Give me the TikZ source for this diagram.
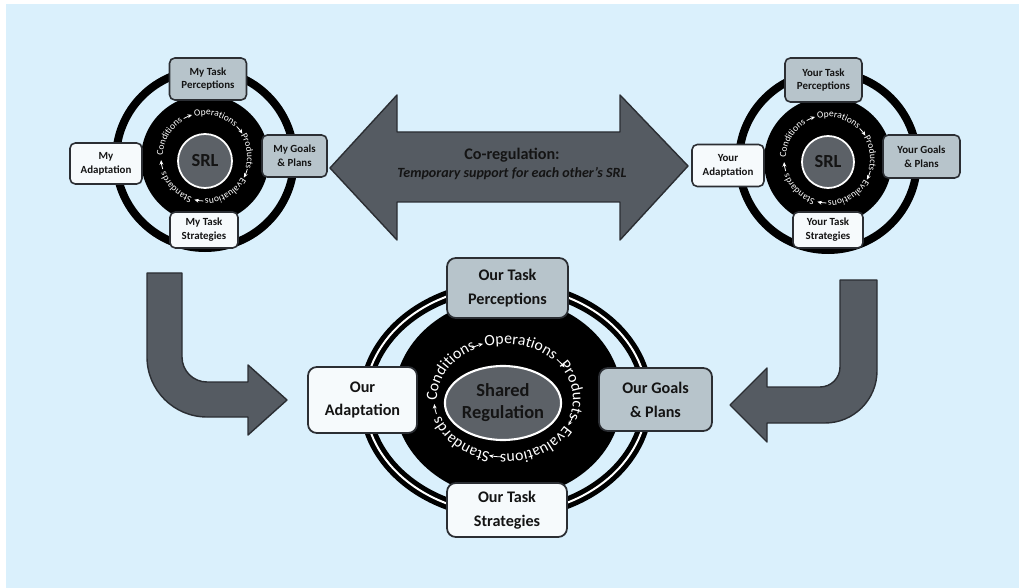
\documentclass[tikz,border=0pt]{standalone}
\usepackage{fontspec}
\setmainfont{Carlito}
\usetikzlibrary{decorations.text, arrows.meta, shapes.geometric}

\definecolor{bgblue}{HTML}{DAF0FC}
\definecolor{boxgray}{HTML}{B7C4CB}
\definecolor{boxwhite}{HTML}{F6FAFC}
\definecolor{arrowfill}{HTML}{555B62}
\definecolor{edgedark}{HTML}{2B2E33}
\definecolor{hubfill}{HTML}{5C6167}
\definecolor{inkdark}{HTML}{141414}

% one word of the regulation cycle, set clockwise along an elliptic arc
% #1 centre, #2 x radius, #3 y radius, #4 mid angle, #5 word, #6 font size
\newcommand\ringword[6]{%
  \path[shift={(#1)}, decorate,
        decoration={text along path, text align=center, text color=white,
                    text={|\fontsize{#6}{#6}\selectfont|#5}}]
    ({#4+48}:#2 and #3) arc[start angle={#4+48}, end angle={#4-48}, x radius=#2, y radius=#3];}

% small clockwise arrow between two words of the cycle
% #1 centre, #2 x radius, #3 y radius, #4 mid angle, #5 half span
\newcommand\ringarrow[5]{%
  \draw[shift={(#1)}, white, line width=0.45pt, -{Stealth[length=2.6pt,width=2.2pt]}]
    ({#4+#5}:#2 and #3) arc[start angle={#4+#5}, end angle={#4-#5}, x radius=#2, y radius=#3];}

\begin{document}
\begin{tikzpicture}[x=0.02cm, y=0.02cm,
  card/.style={draw=edgedark, line width=0.9pt, rounded corners=3pt, align=center,
               inner sep=1pt, text=inkdark, font=\bfseries\fontsize{6.2}{7.9}\selectfont},
  bigcard/.style={card, rounded corners=5pt, line width=1pt,
                  font=\bfseries\fontsize{9.2}{13.6}\selectfont},
  grayfill/.style={fill=boxgray},
  whitefill/.style={fill=boxwhite},
  boxsize/.style 2 args={minimum width=#1*0.02cm, minimum height=#2*0.02cm},
  hub/.style={fill=hubfill, draw=white, line width=1pt, inner sep=0pt},
  blockarrow/.style={fill=arrowfill, draw=edgedark, line width=0.8pt, line join=round}]

\useasboundingbox (0,0) rectangle (1019,-588);
\fill[white] (0,0) rectangle (1019,-588);
\fill[bgblue] (6,-4) rectangle (1019,-588);

% ---------- centres ----------
\coordinate (ringA) at (205,-159);
\coordinate (textA) at (205,-157);
\coordinate (ringB) at (828,-161);
\coordinate (textB) at (828,-159);
\coordinate (ringC) at (506,-400);
\coordinate (diskC) at (508,-398);
\coordinate (textC) at (505,-399);

% ---------- co-regulation double arrow ----------
\draw[blockarrow] (330,-168) -- (397,-95) -- (397,-132) -- (620,-132) -- (620,-95)
  -- (688,-166) -- (620,-240) -- (620,-202) -- (397,-202) -- (397,-240) -- cycle;
\node[align=center, text=inkdark, font=\bfseries\fontsize{9.2}{10.2}\selectfont] (coreg) at (512,-164)
  {Co-regulation:\\{\fontsize{8}{10}\selectfont\itshape Temporary support for each other’s SRL}};

% ---------- bent arrows into shared regulation ----------
\draw[blockarrow] (147,-273) -- (182,-273) -- (182,-357)
  arc[start angle=180, end angle=270, radius=25] -- (248,-382) -- (248,-365)
  -- (287,-400) -- (248,-435) -- (248,-417) -- (207,-417)
  arc[start angle=270, end angle=180, radius=60] -- cycle;
\draw[blockarrow] (840,-280) -- (877,-280) -- (877,-371)
  arc[start angle=0, end angle=-90, radius=52] -- (767,-423) -- (767,-442)
  -- (730,-405) -- (767,-368) -- (767,-387) -- (820,-387)
  arc[start angle=-90, end angle=0, radius=20] -- cycle;

% ---------- my SRL ----------
\draw[black, line width=0.16cm] (ringA) circle[radius=89];
\fill[black] (ringA) circle[radius=64];
\ringword{textA}{42}{42}{150}{Conditions}{5.4}
\ringword{textA}{42}{42}{75}{Operations}{5.4}
\ringword{textA}{42}{42}{8}{Products}{5.4}
\ringword{textA}{42}{42}{-60}{Evaluations}{5.4}
\ringword{textA}{42}{42}{-134}{Standards}{5.4}
\foreach \a in {113,38,-22,-98,-170} {\ringarrow{textA}{44}{44}{\a}{6}}
\node[hub, circle, minimum size=54*0.02cm, font=\bfseries\fontsize{10.5}{12}\selectfont] (srlA) at (205,-161)
  {\color{inkdark}SRL};

\node[card, grayfill, boxsize={77}{42}] (myPer) at (208,-79) {My Task\\Perceptions};
\node[card, grayfill, boxsize={65}{42}] (myGoal) at (294.5,-156) {My Goals\\\& Plans};
\node[card, whitefill, boxsize={72}{41}] (myAdapt) at (106,-163.5) {My\\Adaptation};
\node[card, whitefill, boxsize={68}{36}] (myStrat) at (204,-230) {My Task\\Strategies};

% ---------- your SRL ----------
\draw[black, line width=0.16cm] (ringB) circle[radius=89];
\fill[black] (ringB) circle[radius=64];
\ringword{textB}{42}{42}{150}{Conditions}{5.4}
\ringword{textB}{42}{42}{75}{Operations}{5.4}
\ringword{textB}{42}{42}{8}{Products}{5.4}
\ringword{textB}{42}{42}{-60}{Evaluations}{5.4}
\ringword{textB}{42}{42}{-134}{Standards}{5.4}
\foreach \a in {113,38,-22,-98,-170} {\ringarrow{textB}{44}{44}{\a}{6}}
\node[hub, circle, minimum size=52*0.02cm, font=\bfseries\fontsize{10.5}{12}\selectfont] (srlB) at (828,-162)
  {\color{inkdark}SRL};

\node[card, grayfill, boxsize={77}{44}] (yourPer) at (823.5,-80) {Your Task\\Perceptions};
\node[card, grayfill, boxsize={77}{43}] (yourGoal) at (921.5,-156.5) {Your Goals\\\& Plans};
\node[card, whitefill, boxsize={72}{42}] (yourAdapt) at (728,-165.5) {Your\\Adaptation};
\node[card, whitefill, boxsize={70}{36}] (yourStrat) at (828,-230) {Your Task\\Strategies};

% ---------- shared regulation ----------
\draw[black, line width=0.24cm] (ringC) ellipse[x radius=141, y radius=114];
\draw[white, line width=0.04cm] (ringC) ellipse[x radius=141, y radius=114];
\fill[black] (diskC) ellipse[x radius=114, y radius=100];
\ringword{textC}{68}{55}{150}{Conditions}{9}
\ringword{textC}{68}{55}{75}{Operations}{9}
\ringword{textC}{68}{55}{8}{Products}{9}
\ringword{textC}{68}{55}{-60}{Evaluations}{9}
\ringword{textC}{68}{55}{-134}{Standards}{9}
\foreach \a in {113,38,-22,-98,-170} {\ringarrow{textC}{71}{58}{\a}{5}}
\node[hub, ellipse, line width=1.2pt, minimum width=114*0.02cm, minimum height=74*0.02cm,
      align=center, font=\bfseries\fontsize{10.5}{12.5}\selectfont] (shared) at (503,-403)
  {\color{inkdark}Shared\\\color{inkdark}Regulation};

\node[bigcard, grayfill, boxsize={121}{60}] (ourPer) at (507.5,-288) {Our Task\\Perceptions};
\node[bigcard, grayfill, boxsize={113}{63}] (ourGoal) at (655.5,-399.5) {Our Goals\\\& Plans};
\node[bigcard, whitefill, boxsize={109}{66}] (ourAdapt) at (362.5,-400) {Our\\Adaptation};
\node[bigcard, whitefill, boxsize={120}{54}] (ourStrat) at (507,-510) {Our Task\\Strategies};

\end{tikzpicture}
\end{document}
